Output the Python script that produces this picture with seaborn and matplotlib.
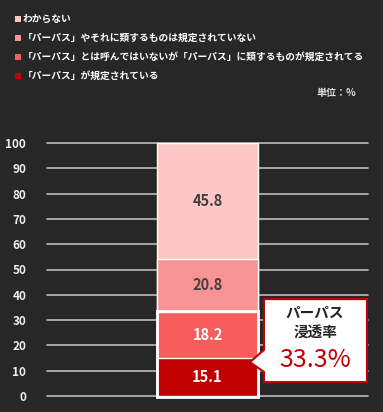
import numpy as np
import pandas as pd
import matplotlib
matplotlib.use("Agg")
import matplotlib.pyplot as plt
from matplotlib.patches import Rectangle, Polygon
import seaborn as sns

# data (bottom -> top)
labels = ["「パーパス」が規定されている",
          "「パーパス」とは呼んではいないが「パーパス」に類するものが規定されてる",
          "「パーパス」やそれに類するものは規定されていない",
          "わからない"]
values = [15.1, 18.2, 20.8, 45.8]
colors = ["#C00000", "#F85C5C", "#F99394", "#FDC6C7"]
label_colors = ["white", "white", "#404040", "#404040"]
category = ["全体"]
y_ticks = [0, 10, 20, 30, 40, 50, 60, 70, 80, 90, 100]
penetration = values[0] + values[1]

bg = "#272727"
sns.set_theme(style="white")
plt.rcParams['font.family'] = ['Noto Sans CJK JP', 'DejaVu Sans']

fig = plt.figure(figsize=(3.83, 4.12), dpi=100, facecolor=bg)
ax = fig.add_axes([47/383, 1-396/412, (368-47)/383, (396-143)/412])
ax.set_facecolor(bg)

cum = np.cumsum(values)
for i in range(len(values)-1, -1, -1):
    df = pd.DataFrame({"cat": category, "val": [cum[i]]})
    sns.barplot(data=df, x="cat", y="val", color=colors[i], width=0.8,
                saturation=1, ax=ax, zorder=3)

for i in range(len(values)):
    mid = cum[i] - values[i]/2
    ax.text(0, mid, f"{values[i]:.1f}", ha="center", va="center",
            fontsize=10.5, color=label_colors[i], zorder=5, fontweight="bold")

ax.set_xlim(-1.27, 1.27)
ax.set_ylim(0, 100)
ax.set_yticks(y_ticks)
ax.set_yticklabels([str(t) for t in y_ticks], fontweight="bold", color="#EEEEEE", fontsize=8.5)
ax.tick_params(axis="y", length=0, pad=15)
ax.set_xticks([])
ax.set_xlabel("")
ax.set_ylabel("")
for s in ax.spines.values():
    s.set_visible(False)
for t in y_ticks:
    ax.axhline(t, color="#BDBDBD", lw=1.2, zorder=1, clip_on=False)

# white outline around penetration segments
ax.add_patch(Rectangle((-0.4, -0.4), 0.8, penetration + 0.7, fill=False,
                       edgecolor="white", lw=2, zorder=6, clip_on=False))

# callout
pts = [(0.447, 38.3), (1.262, 38.3), (1.262, 5.5), (0.447, 5.5),
       (0.447, 9.5), (0.336, 13.4), (0.447, 18.2)]
ax.add_patch(Polygon(pts, closed=True, facecolor="white", edgecolor="#C00000",
                     lw=1.5, zorder=7, clip_on=False, joinstyle="miter"))
ax.text(0.851, 32.8, "パーパス", ha="center", va="center", fontsize=10.5,
        fontweight="bold", color="#222222", zorder=8)
ax.text(0.851, 25.3, "浸透率", ha="center", va="center", fontsize=10.5,
        fontweight="bold", color="#222222", zorder=8)
ax.text(0.851, 14.2, f"{penetration:.1f}%", ha="center", va="center", fontsize=18,
        color="#C00000", zorder=8)

# legend (top -> bottom order as in reference)
rows_y = [19, 38, 57, 76]
for k, idx in enumerate([3, 2, 1, 0]):
    yc = 1 - rows_y[k]/412
    fig.patches.append(Rectangle((15/383, yc - 3/412), 6/383, 6/412,
                                 transform=fig.transFigure, facecolor=colors[idx],
                                 edgecolor="none"))
    fig.text(23/383, yc, labels[idx], ha="left", va="center", fontsize=7.0,
             color="white", fontweight="bold")
fig.text(356/383, 1 - 93/412, "単位：%", ha="right", va="center", fontsize=7.2,
         color="#DDDDDD", fontweight="bold")

fig.savefig("out.png", dpi=100, facecolor=bg)
